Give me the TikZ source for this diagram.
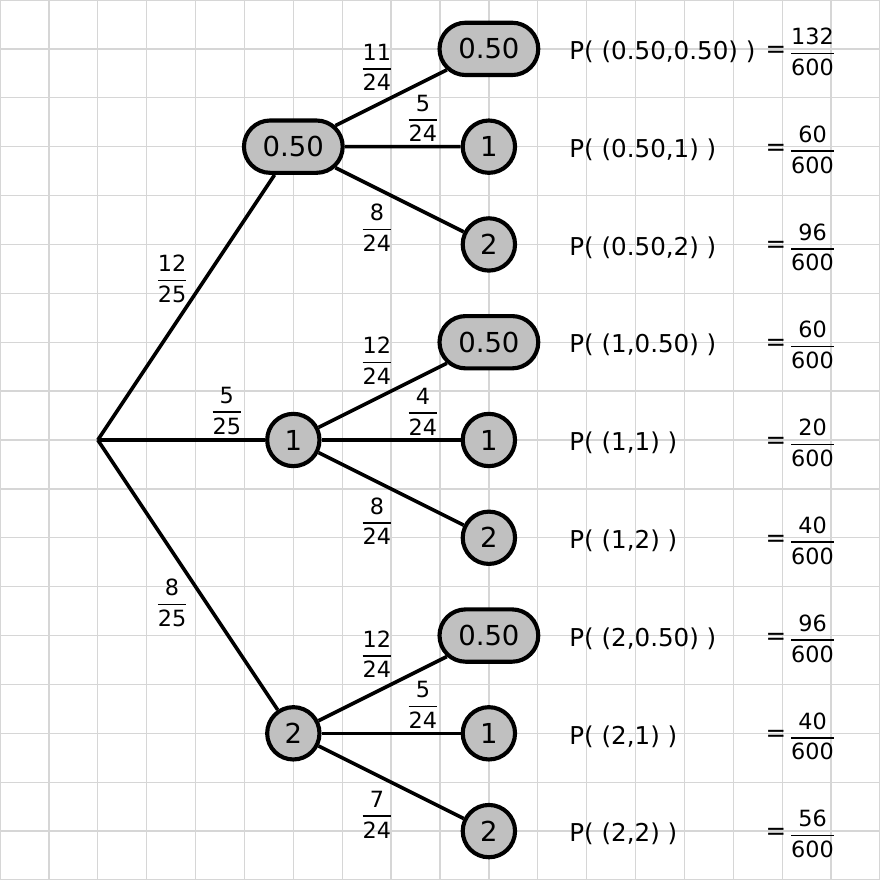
\documentclass[tikz,border=0pt]{standalone}
\usepackage{amsmath}
\usepackage{fontspec}
\setmainfont{DejaVu Sans}
\usepackage{tikz}
\usetikzlibrary{shapes.misc}
\usepackage{xcolor}
\definecolor{nodegray}{RGB}{192,192,192}
\definecolor{gridgray}{RGB}{214,214,214}
\newcommand{\pfrac}[2]{$\genfrac{}{}{0.9pt}{0}{\text{#1}}{\text{#2}}$}

\tikzset{
  outcome/.style={draw,fill=nodegray,line width=2.4pt,inner sep=0pt,font=\fontsize{16}{19}\selectfont},
  onept/.style={outcome,circle,minimum size=1.07cm},
  halfpt/.style={outcome,rounded rectangle,minimum width=2.02cm,minimum height=1.07cm},
  branch/.style={line width=2.1pt},
  prob/.style={inner sep=0pt,font=\fontsize{13}{15}\selectfont},
  event/.style={inner sep=0pt,font=\fontsize{14.3}{17}\selectfont}
}

\begin{document}
\begin{tikzpicture}
\useasboundingbox (0,0) rectangle (18,18);
\draw[gridgray,line width=0.8pt] (0,0) grid (18,18);

% first draw
\coordinate (root) at (2,9);
\node[halfpt] (a) at (6,15) {0.50};
\node[onept] (b) at (6,9) {1};
\node[onept] (c) at (6,3) {2};
\foreach \p in {a,b,c} \draw[branch] (root) -- (\p);
\foreach \nm/\x/\y/\pn in {ra/3.52/12.29/12, rb/4.64/9.60/5, rc/3.52/5.67/8}
  \node[prob] (\nm) at (\x,\y) {\pfrac{\pn}{25}};

% second draw
\foreach \p/\y/\i/\j/\k in {a/15/11/5/8, b/9/12/4/8, c/3/12/5/7}{
  \node[halfpt] (\p1) at (10,\y+2) {0.50};
  \node[onept] (\p2) at (10,\y) {1};
  \node[onept] (\p3) at (10,\y-2) {2};
  \foreach \q in {1,2,3} \draw[branch] (\p) -- (\p\q);
  \node[prob] (\p w1) at (7.71,\y+1.62) {\pfrac{\i}{24}};
  \node[prob] (\p w2) at (8.65,\y+0.58) {\pfrac{\j}{24}};
  \node[prob] (\p w3) at (7.71,\y-1.66) {\pfrac{\k}{24}};
}

% outcomes
\foreach \nm/\pair/\pn in {a1/{(0.50,0.50)}/132, a2/{(0.50,1)}/60, a3/{(0.50,2)}/96,
                           b1/{(1,0.50)}/60, b2/{(1,1)}/20, b3/{(1,2)}/40,
                           c1/{(2,0.50)}/96, c2/{(2,1)}/40, c3/{(2,2)}/56}{
  \node[event,anchor=base west,yshift=-0.22cm] (p\nm) at (11.64,0 |- \nm) {P( \pair\ )};
  \node[event,yshift=-0.06cm] (e\nm) at (15.87,0 |- \nm) {=};
  \node[prob,yshift=-0.06cm] (f\nm) at (16.62,0 |- \nm) {\pfrac{\pn}{600}};
}
\end{tikzpicture}
\end{document}
